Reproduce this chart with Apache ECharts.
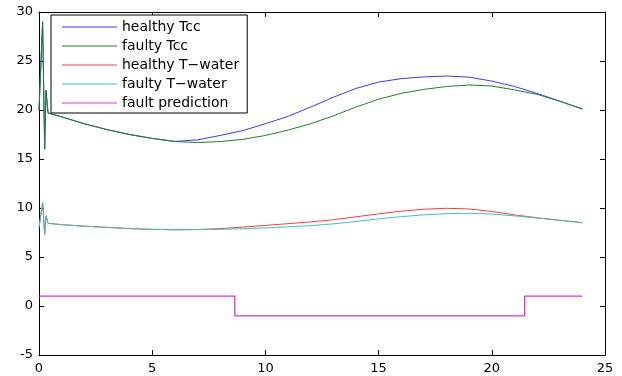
<!DOCTYPE html>
<html>
<head>
<meta charset="utf-8">
<script src="https://cdn.jsdelivr.net/npm/echarts@6/dist/echarts.min.js"></script>
<style>html,body{margin:0;padding:0;background:#fff}#c{width:622px;height:376px}</style>
</head>
<body>
<div id="c"></div>
<script>
const seriesNames = ['healthy Tcc', 'faulty Tcc', 'healthy T\u2212water', 'faulty T\u2212water', 'fault prediction'];
const time = [0, 0.16, 0.25, 0.31, 0.4, 1, 2, 3, 4, 5, 6, 7, 8, 9, 10, 11, 12, 13, 14, 15, 16, 17, 18, 19, 20, 21, 22, 23, 24];
const healthyTcc = [20, 29, 16, 22, 19.7, 19.3, 18.6, 18.0, 17.5, 17.1, 16.8, 16.95, 17.4, 17.9, 18.6, 19.35, 20.3, 21.3, 22.2, 22.85, 23.2, 23.38, 23.47, 23.35, 22.95, 22.4, 21.7, 20.9, 20.1];
const faultyTcc = [20, 29, 16, 22, 19.7, 19.3, 18.6, 18.0, 17.5, 17.1, 16.78, 16.68, 16.78, 17.0, 17.4, 17.95, 18.6, 19.4, 20.3, 21.1, 21.7, 22.1, 22.4, 22.55, 22.45, 22.05, 21.6, 20.9, 20.1];
const healthyWater = [8, 10.6, 7.3, 9.2, 8.44, 8.3, 8.15, 8.02, 7.9, 7.82, 7.78, 7.8, 7.9, 8.05, 8.22, 8.4, 8.58, 8.8, 9.1, 9.4, 9.68, 9.88, 9.97, 9.9, 9.65, 9.3, 9.0, 8.75, 8.5];
const faultyWater = [8, 10.6, 7.3, 9.2, 8.44, 8.3, 8.15, 8.02, 7.9, 7.82, 7.78, 7.8, 7.82, 7.88, 7.97, 8.08, 8.2, 8.38, 8.62, 8.9, 9.12, 9.3, 9.42, 9.46, 9.38, 9.2, 8.98, 8.75, 8.5];
const faultTime = [0, 8.65, 21.45, 24];
const faultValue = [1, -1, 1, 1];
const xTicks = [0, 5, 10, 15, 20, 25];
const yTicks = [-5, 0, 5, 10, 15, 20, 25, 30];

const colors = ['#3a3aff', '#1f821f', '#ff3c3c', '#3cc4c4', '#dd30dd'];
const pair = (xs, ys) => xs.map((x, i) => [x, ys[i]]);
const chart = echarts.init(document.getElementById('c'), null, {renderer: 'canvas'});
const font = 'DejaVu Sans, Liberation Sans, Arial, sans-serif';
const axisBase = {
  type: 'value',
  axisLine: {show: true, onZero: false, lineStyle: {color: '#000', width: 1}},
  axisTick: {show: true, inside: true, length: 5, lineStyle: {color: '#000'}},
  splitLine: {show: false},
};
const mk = (name, ys, idx) => ({
  name, type: 'line', data: pair(time, ys), showSymbol: false, symbol: 'none',
  lineStyle: {color: colors[idx], width: 1}, itemStyle: {color: colors[idx]}, z: 2 + idx
});
chart.setOption({
  animation: false,
  backgroundColor: '#fff',
  grid: {left: 39, right: 17, top: 12, bottom: 21, containLabel: false},
  xAxis: [
    Object.assign({}, axisBase, {min: xTicks[0], max: xTicks[xTicks.length - 1], interval: 5, position: 'bottom',
      axisLabel: {color: '#000', fontSize: 13, fontFamily: font, margin: 7}}),
    Object.assign({}, axisBase, {min: xTicks[0], max: xTicks[xTicks.length - 1], interval: 5, position: 'top',
      axisLabel: {show: false}})
  ],
  yAxis: [
    Object.assign({}, axisBase, {min: yTicks[0], max: yTicks[yTicks.length - 1], interval: 5, position: 'left',
      axisLabel: {color: '#000', fontSize: 13, fontFamily: font, margin: 6}}),
    Object.assign({}, axisBase, {min: yTicks[0], max: yTicks[yTicks.length - 1], interval: 5, position: 'right',
      axisLabel: {show: false}})
  ],
  legend: {
    data: seriesNames, orient: 'vertical', left: 51, top: 15,
    backgroundColor: '#fff', borderColor: '#000', borderWidth: 1, borderRadius: 0,
    padding: [5, 8, 3, 11], itemGap: 5, itemWidth: 55, itemHeight: 14,
    icon: 'path://M0,7 L55,7 L55,8 L0,8 Z',
    textStyle: {color: '#000', fontSize: 14, fontFamily: font, lineHeight: 14},
    selectedMode: false
  },
  series: [
    mk(seriesNames[0], healthyTcc, 0),
    mk(seriesNames[1], faultyTcc, 1),
    mk(seriesNames[2], healthyWater, 2),
    mk(seriesNames[3], faultyWater, 3),
    {name: seriesNames[4], type: 'line', step: 'end', data: pair(faultTime, faultValue), showSymbol: false, symbol: 'none',
      lineStyle: {color: colors[4], width: 1.3}, itemStyle: {color: colors[4]}, z: 7}
  ]
});
</script>
</body>
</html>
